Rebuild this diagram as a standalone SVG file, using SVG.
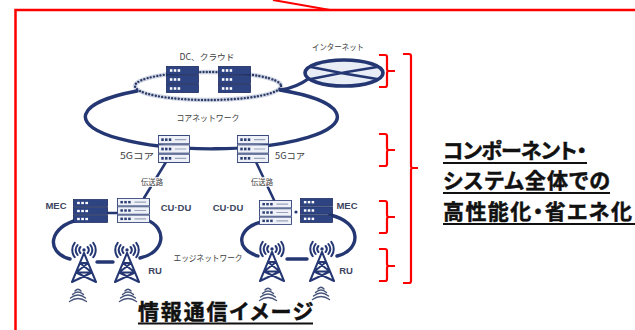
<svg xmlns="http://www.w3.org/2000/svg" xmlns:xlink="http://www.w3.org/1999/xlink" width="635" height="330" viewBox="0 0 635 330">
  <style>
    .frame { fill: none; stroke: #ff0000; stroke-width: 2.5; }
    .brace { fill: none; stroke: #ff0000; stroke-width: 2.2; stroke-linejoin: round; }
    .link { fill: none; stroke: #243773; stroke-width: 3.4; stroke-linecap: round; }
    .thin { fill: none; stroke: #243773; stroke-width: 2.6; stroke-linecap: round; }
    .dots-under { fill: none; stroke: #cfd5e2; stroke-width: 4.5; }
    .dots { fill: none; stroke: #2c3a68; stroke-width: 2.4; stroke-dasharray: 0 3.3; stroke-linecap: round; }
    .lbl { font-family: "Noto Sans CJK JP", "Noto Sans", sans-serif; font-size: 8.5px; fill: #3d3d3d; text-anchor: middle; paint-order: stroke; stroke: #ffffff; stroke-width: 2.2px; stroke-linejoin: round; }
    .lbl-en { font-family: "Liberation Sans", "Noto Sans", sans-serif; font-size: 9.5px; font-weight: bold; fill: #3d4560; text-anchor: middle; paint-order: stroke; stroke: #ffffff; stroke-width: 2.2px; }
    .head { font-family: "Noto Sans CJK JP", sans-serif; font-weight: bold; font-size: 21px; fill: #111111; stroke: #111111; stroke-width: 0.5px; font-feature-settings: "palt"; }
    .uline { stroke: #111111; stroke-width: 1.8; }
    .row-d { fill: #2d4382; stroke: #1b2a5e; stroke-width: 0.8; }
    .row-l { fill: #eef1f7; stroke: #2b3d73; stroke-width: 0.9; }
    .led-w { fill: #ffffff; }
    .led-d { fill: #2b3d73; }
    .bar { stroke: #9aa3b8; stroke-width: 1.2; }
    .tw { fill: none; stroke: #243773; stroke-width: 2; stroke-linejoin: round; stroke-linecap: round; }
    .wave { fill: none; stroke: #46547a; stroke-width: 1.4; stroke-linecap: round; }
  </style>
  <defs>
    <!-- dark rack server, 3 units -->
    <symbol id="srvDark" viewBox="0 0 34 27" preserveAspectRatio="none">
      <rect class="row-d" x="0.5" y="0.5" width="33" height="8"/>
      <rect class="row-d" x="0.5" y="9.5" width="33" height="8"/>
      <rect class="row-d" x="0.5" y="18.5" width="33" height="8"/>
      <g class="led-w">
        <rect x="4" y="3.2" width="2.6" height="2.6"/><rect x="8" y="3.2" width="2.6" height="2.6"/><rect x="12" y="3.2" width="2.6" height="2.6"/>
        <rect x="4" y="12.2" width="2.6" height="2.6"/><rect x="8" y="12.2" width="2.6" height="2.6"/><rect x="12" y="12.2" width="2.6" height="2.6"/>
        <rect x="4" y="21.2" width="2.6" height="2.6"/><rect x="8" y="21.2" width="2.6" height="2.6"/><rect x="12" y="21.2" width="2.6" height="2.6"/>
      </g>
    </symbol>
    <!-- light rack server, 3 units -->
    <symbol id="srvLight" viewBox="0 0 34 27" preserveAspectRatio="none">
      <rect class="row-l" x="0.5" y="0.5" width="33" height="8"/>
      <rect class="row-l" x="0.5" y="9.5" width="33" height="8"/>
      <rect class="row-l" x="0.5" y="18.5" width="33" height="8"/>
      <g class="led-d">
        <rect x="3.5" y="3.2" width="2.6" height="2.6"/><rect x="7.5" y="3.2" width="2.6" height="2.6"/><rect x="11.5" y="3.2" width="2.6" height="2.6"/>
        <rect x="3.5" y="12.2" width="2.6" height="2.6"/><rect x="7.5" y="12.2" width="2.6" height="2.6"/><rect x="11.5" y="12.2" width="2.6" height="2.6"/>
        <rect x="3.5" y="21.2" width="2.6" height="2.6"/><rect x="7.5" y="21.2" width="2.6" height="2.6"/><rect x="11.5" y="21.2" width="2.6" height="2.6"/>
      </g>
      <path class="bar" d="M18,4.5 H30 M18,13.5 H30 M18,22.5 H30"/>
    </symbol>
    <!-- radio tower with antenna waves; origin at the antenna -->
    <g id="tower">
      <circle cx="0" cy="0" r="1.7" fill="#243773"/>
      <path class="tw" d="M-3.6,-3 A4.7,4.7 0 0 0 -3.6,3 M3.6,-3 A4.7,4.7 0 0 1 3.6,3
                          M-6.4,-5 A8.2,8.2 0 0 0 -6.4,5 M6.4,-5 A8.2,8.2 0 0 1 6.4,5
                          M-9.3,-7.2 A11.8,11.8 0 0 0 -9.3,7.2 M9.3,-7.2 A11.8,11.8 0 0 1 9.3,7.2"/>
      <path class="tw" d="M0,3 L-12,32 M0,3 L12,32
                          M-4.1,13 H4.1 M-7.9,22.5 H7.9
                          M-4.1,13 L7.9,22.5 M4.1,13 L-7.9,22.5
                          M-7.9,22.5 L12,32 M7.9,22.5 L-12,32"/>
    </g>
    <!-- layered signal arcs under the towers -->
    <g id="waves">
      <path class="wave" d="M-3,3 Q0,-0.5 3,3 M-5.5,6.5 Q0,1.5 5.5,6.5 M-7.5,10 Q0,4 7.5,10 M-8.5,13.5 Q0,7.5 8.5,13.5"/>
    </g>
  </defs>

  <rect width="635" height="330" fill="#ffffff"/>

  <!-- outer callout frame -->
  <g id="frame">
    <rect class="frame" x="15.5" y="10" width="640" height="340"/>
    <line x1="273" y1="0" x2="330" y2="10" stroke="#ff0000" stroke-width="2"/>
  </g>

  <!-- connectors -->
  <g id="connectors">
    <!-- DC dotted ring -->
    <ellipse class="dots-under" cx="208" cy="86" rx="73" ry="14"/>
    <ellipse class="dots" cx="208" cy="86" rx="73" ry="14"/>
    <!-- core network ring -->
    <path class="link" d="M137,91 A126,32 0 1 0 280,90"/>
    <!-- uplink to the internet -->
    <path class="link" d="M281,90 C292,88 300,85 308,79"/>
    <!-- transport links -->
    <path class="thin" d="M166,162 L144,198"/>
    <path class="thin" d="M256,162 L274,200"/>
    <!-- edge loops -->
    <path class="link" d="M78,220 C50,226 44,252 70,259"/>
    <path class="link" d="M147,220 C167,228 166,252 140,258"/>
    <path class="link" d="M262,222 C240,226 232,248 258,256"/>
    <path class="link" d="M330,215 C362,222 362,250 337,256"/>
    <!-- RU links -->
    <path class="link" d="M97,262 H113"/>
    <path class="link" d="M287,259 H307"/>
    <!-- MEC / CU-DU links -->
    <path class="thin" d="M108,213 H117"/>
    <circle cx="296" cy="212" r="1.6" fill="#243773"/>
  </g>

  <!-- internet -->
  <g id="internet">
    <ellipse cx="344" cy="73" rx="39" ry="13" fill="#e8edf6" stroke="#243773" stroke-width="3.6"/>
    <path class="thin" d="M311,67 Q344,74 377,79 M311,79 Q344,72 377,67"/>
    <text class="lbl" x="338" y="50" textLength="52" lengthAdjust="spacingAndGlyphs">インターネット</text>
  </g>

  <!-- data centre / cloud -->
  <g id="dc-cloud">
    <use href="#srvDark" xlink:href="#srvDark" x="166" y="66" width="33" height="27"/>
    <use href="#srvDark" xlink:href="#srvDark" x="218" y="66" width="33" height="27"/>
    <text class="lbl" x="207" y="60" textLength="55" lengthAdjust="spacingAndGlyphs">DC、クラウド</text>
  </g>

  <g id="core-label">
    <text class="lbl" x="208" y="121" textLength="63" lengthAdjust="spacingAndGlyphs">コアネットワーク</text>
  </g>

  <!-- 5G core -->
  <g id="core5g-left">
    <use href="#srvLight" xlink:href="#srvLight" x="158" y="135" width="32" height="28"/>
    <text class="lbl" x="137" y="159" textLength="34" lengthAdjust="spacingAndGlyphs">5Gコア</text>
  </g>
  <g id="core5g-right">
    <use href="#srvLight" xlink:href="#srvLight" x="237" y="135" width="32" height="28"/>
    <text class="lbl" x="290" y="159" textLength="30" lengthAdjust="spacingAndGlyphs">5Gコア</text>
  </g>

  <g id="transport-labels">
    <text class="lbl" x="152" y="185" textLength="22" lengthAdjust="spacingAndGlyphs">伝送路</text>
    <text class="lbl" x="262" y="185" textLength="22" lengthAdjust="spacingAndGlyphs">伝送路</text>
  </g>

  <!-- left edge site -->
  <g id="mec-left">
    <use href="#srvDark" xlink:href="#srvDark" x="73" y="199" width="35" height="24"/>
    <text class="lbl-en" x="56" y="209">MEC</text>
  </g>
  <g id="cudu-left">
    <use href="#srvLight" xlink:href="#srvLight" x="117" y="198" width="33" height="25"/>
    <text class="lbl-en" x="176" y="211">CU·DU</text>
  </g>
  <g id="ru-left">
    <use href="#tower" xlink:href="#tower" x="84" y="250"/>
    <use href="#tower" xlink:href="#tower" x="127" y="250"/>
    <use href="#waves" xlink:href="#waves" x="78" y="288"/>
    <use href="#waves" xlink:href="#waves" x="128" y="288"/>
    <text class="lbl-en" x="155" y="274">RU</text>
  </g>

  <g id="edge-label">
    <text class="lbl" x="208" y="261" textLength="69" lengthAdjust="spacingAndGlyphs">エッジネットワーク</text>
  </g>

  <!-- right edge site -->
  <g id="cudu-right">
    <use href="#srvLight" xlink:href="#srvLight" x="259" y="200" width="33" height="25"/>
    <text class="lbl-en" x="228" y="211">CU·DU</text>
  </g>
  <g id="mec-right">
    <use href="#srvDark" xlink:href="#srvDark" x="300" y="198" width="33" height="25"/>
    <text class="lbl-en" x="347" y="209">MEC</text>
  </g>
  <g id="ru-right">
    <use href="#tower" xlink:href="#tower" x="272" y="249"/>
    <use href="#tower" xlink:href="#tower" x="322" y="249"/>
    <use href="#waves" xlink:href="#waves" x="268" y="287"/>
    <use href="#waves" xlink:href="#waves" x="321" y="286"/>
    <text class="lbl-en" x="346" y="274">RU</text>
  </g>

  <!-- layer braces -->
  <g id="braces">
    <path class="brace" d="M379,55 H385 Q387,55 387,57 V69 Q387,71 389,71 H395 M389,71 Q387,71 387,73 V85 Q387,87 385,87 H379"/>
    <path class="brace" d="M379,134 H385 Q387,134 387,136 V148 Q387,150 389,150 H395 M389,150 Q387,150 387,152 V164 Q387,166 385,166 H379"/>
    <path class="brace" d="M379,201 H385 Q387,201 387,203 V215 Q387,217 389,217 H395 M389,217 Q387,217 387,219 V231 Q387,233 385,233 H379"/>
    <path class="brace" d="M379,249 H385 Q387,249 387,251 V264 Q387,266 389,266 H395 M389,266 Q387,266 387,268 V279 Q387,281 385,281 H379"/>
    <path class="brace" d="M403,54 H409 Q411,54 411,56 V166 Q411,168 413,168 H418 M413,168 Q411,168 411,170 V281 Q411,283 409,283 H403"/>
  </g>

  <!-- caption -->
  <g id="caption">
    <text class="head" x="443" y="158" textLength="144" lengthAdjust="spacing">コンポーネント・</text>
    <line class="uline" x1="443" y1="163" x2="587" y2="163"/>
    <text class="head" x="443" y="188" textLength="167" lengthAdjust="spacing">システム全体での</text>
    <line class="uline" x1="443" y1="193" x2="610" y2="193"/>
    <text class="head" x="443" y="219" textLength="189" lengthAdjust="spacing">高性能化・省エネ化</text>
    <line class="uline" x1="443" y1="224" x2="635" y2="224"/>
  </g>

  <g id="title">
    <text class="head" x="138" y="319" textLength="175" lengthAdjust="spacing">情報通信イメージ</text>
    <line class="uline" x1="138" y1="323.5" x2="313" y2="323.5"/>
  </g>
</svg>
